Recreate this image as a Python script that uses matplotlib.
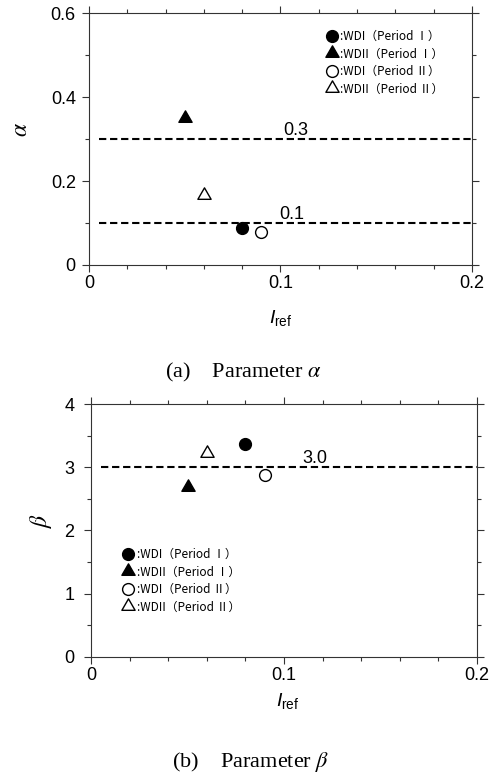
import matplotlib
matplotlib.use("Agg")
import matplotlib.pyplot as plt
from matplotlib.path import Path
from matplotlib.ticker import MultipleLocator, FuncFormatter

# series: same order as the legend
labels = [":WDI（Period Ⅰ）", ":WDII（Period Ⅰ）", ":WDI（Period Ⅱ）", ":WDII（Period Ⅱ）"]
i_ref = [0.08, 0.05, 0.09, 0.06]
alpha = [0.087, 0.35, 0.078, 0.168]
beta = [3.37, 2.69, 2.88, 3.23]

alpha_levels = [0.3, 0.1]
beta_levels = [3.0]

# marker styles (shape, face colour) per series
tri = Path([(-1.0, -0.577), (1.0, -0.577), (0.0, 1.155), (-1.0, -0.577)], closed=True)
styles = [("o", "black"), (tri, "black"), ("o", "white"), (tri, "white")]

plt.rcParams["font.family"] = ["Liberation Sans", "DejaVu Sans"]
plt.rcParams["mathtext.fontset"] = "custom"
plt.rcParams["mathtext.rm"] = "Liberation Sans"
plt.rcParams["mathtext.it"] = "Liberation Sans:italic"

fig = plt.figure(figsize=(4.93, 7.78), dpi=100)
ax1 = fig.add_axes([0.1805, 0.6594, 0.7769, 0.3235])
ax2 = fig.add_axes([0.1846, 0.1559, 0.7830, 0.3248])

legend_font = {"family": ["Noto Sans CJK JP", "DejaVu Sans"], "size": 8.5}
fmt = FuncFormatter(lambda v, p: "%g" % round(v, 6))


def draw_panel(ax, yvals, levels, level_x, ymax, ymajor, yminor, ylab, ytickpad):
    # reference levels
    for lev, lx in zip(levels, level_x):
        ax.axhline(lev, xmin=0.025, xmax=1.0, color="black", lw=1.5,
                   ls=(0, (3.5, 1.8)), zorder=1)
        ax.annotate("%.1f" % lev, xy=(lx, lev), xytext=(0, 3),
                    textcoords="offset points", ha="center", va="baseline",
                    fontsize=13)
    for x, y, lab, (m, fc) in zip(i_ref, yvals, labels, styles):
        ms = 8.5 if m == "o" else 11
        ax.plot([x], [y], ls="none", marker=m, ms=ms, mfc=fc, mec="black",
                mew=1.0, label=lab, zorder=3)
    ax.set_xlim(0, 0.2)
    ax.set_ylim(0, ymax)
    ax.xaxis.set_major_locator(MultipleLocator(0.1))
    ax.xaxis.set_minor_locator(MultipleLocator(0.02))
    ax.yaxis.set_major_locator(MultipleLocator(ymajor))
    ax.yaxis.set_minor_locator(MultipleLocator(yminor))
    ax.xaxis.set_major_formatter(fmt)
    ax.yaxis.set_major_formatter(fmt)
    ax.tick_params(which="both", direction="out", top=True, right=True,
                   color="#333333", width=0.8)
    ax.tick_params(which="major", length=5, labelsize=13)
    ax.tick_params(which="minor", length=3)
    ax.tick_params(axis="x", pad=2.5)
    ax.tick_params(axis="y", pad=ytickpad)
    for s in ax.spines.values():
        s.set_linewidth(0.8)
        s.set_color("#333333")
    ax.set_xlabel(r"$I_{\mathrm{ref}}$", fontsize=14)
    ax.set_ylabel(ylab, fontsize=17, math_fontfamily="stix")


draw_panel(ax1, alpha, alpha_levels, [0.108, 0.106], 0.6, 0.2, 0.1,
           r"$\alpha$", 4.5)
draw_panel(ax2, beta, beta_levels, [0.116], 4, 1, 0.5, r"$\beta$", 7)

ax1.xaxis.set_label_coords(0.5, -0.17)
ax2.xaxis.set_label_coords(0.51, -0.135)
ax1.yaxis.set_label_coords(-0.15, 0.54)
ax2.yaxis.set_label_coords(-0.097, 0.54)

leg_kw = dict(loc="upper left", frameon=False, prop=legend_font,
              handlelength=1.0, handletextpad=0.25, labelspacing=0.38,
              borderpad=0, borderaxespad=0)
ax1.legend(bbox_to_anchor=(0.618, 0.934), **leg_kw)
ax2.legend(bbox_to_anchor=(0.08, 0.43), **leg_kw)

cap_kw = dict(fontfamily="Liberation Serif", fontsize=16, va="baseline",
              ha="left", math_fontfamily="stix")
fig.text(0.335, 0.515, r"(a)    Parameter $\alpha$", **cap_kw)
fig.text(0.349, 0.0135, r"(b)    Parameter $\beta$", **cap_kw)

fig.savefig("out.png", dpi=100)
